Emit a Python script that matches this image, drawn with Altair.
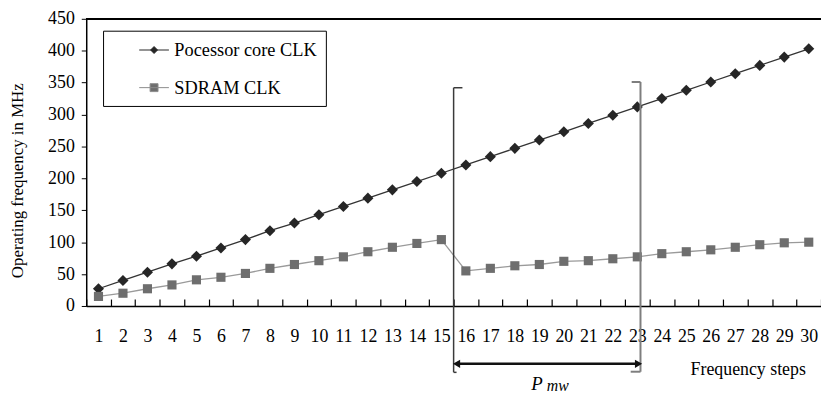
import altair as alt
import pandas as pd

# ---------------- data ----------------
steps = list(range(1, 31))
core_clk = [27, 40, 53, 66, 78, 91, 104, 118, 130, 143, 156, 169, 182, 195, 208,
            221, 234, 247, 260, 273, 286, 299, 312, 325, 338, 351, 364, 377, 390, 403]
sdram_clk = [15, 20, 27, 33, 41, 45, 51, 59, 65, 71, 77, 85, 92, 98, 104,
             55, 59, 63, 65, 70, 71, 74, 77, 82, 85, 88, 92, 96, 99, 100]
series_names = ["Pocessor core CLK", "SDRAM CLK"]

y_ticks = list(range(0, 451, 50))
x_labels = steps
x_tick_bounds = [s - 0.5 for s in steps] + [30.5]

# bracket (P mw window) segments
br_x = [15.5, 15.5, 15.5, 23.13, 22.77, 22.73]
br_x2 = [15.5, 15.86, 15.62, 23.13, 23.13, 23.13]
br_y = [342, 342, -104, 351, 351, -103]
br_y2 = [-104, 342, -104, -103, 351, -103]
br_side = ["left", "left", "left", "right", "right", "right"]

arrow_x = [15.62, 23.05]
arrow_y = -90.6
arrow_shape = ["triangle-left", "triangle-right"]

ann_text = ["P", "mw"]
ann_x = [18.9, 19.75]
ann_y = [-122, -125]
ann_size = [19, 16]

FONT = "Liberation Serif"
W, H = 742, 290

df = pd.DataFrame({
    "step": steps * 2,
    "value": core_clk + sdram_clk,
    "series": [series_names[0]] * 30 + [series_names[1]] * 30,
})
brk = pd.DataFrame({"x": br_x, "x2": br_x2, "y": br_y, "y2": br_y2, "side": br_side})
arr = pd.DataFrame({"x": arrow_x, "y": [arrow_y] * 2, "shape": arrow_shape})
ann = pd.DataFrame({"t": ann_text, "x": ann_x, "y": ann_y, "s": ann_size})

xscale = alt.Scale(domain=[0.5, 30.5], nice=False, zero=False)
yscale = alt.Scale(domain=[0, 450], nice=False)

label_axis = alt.Axis(
    orient="bottom", values=x_labels, ticks=False, grid=False, domain=True,
    domainColor="black", domainWidth=1.5, labelPadding=22, labelFontSize=18,
    labelFont=FONT, labelColor="black", format="d",
    title="Frequency steps", titleFont=FONT, titleFontSize=18,
    titleFontWeight="normal", titleColor="black", titleX=668, titleY=64,
    titleAlign="center", titleBaseline="middle",
)
tick_axis = alt.Axis(
    orient="top", offset=-H, values=x_tick_bounds, labels=False, ticks=True,
    tickSize=7, tickColor="black", tickWidth=1.2, domain=False, grid=False, title=None,
)
y_axis = alt.Axis(
    orient="left", values=y_ticks, grid=False, domainColor="black", domainWidth=1.5,
    tickColor="black", tickSize=5, labelPadding=7, labelFontSize=18,
    labelFont=FONT, labelColor="black",
    title="Operating frequency in MHz", titleFont=FONT, titleFontSize=17,
    titleFontWeight="normal", titleColor="black", titleAngle=-90,
    titleX=-69, titleY=163, titleAlign="center", titleBaseline="middle",
)

sym_core = "M-1.5,0H1.5M0,-0.35L0.35,0L0,0.35L-0.35,0Z"
sym_sdram = "M-1.5,0H1.5M-0.4,-0.4H0.4V0.4H-0.4Z"
legend = alt.Legend(
    orient="none", legendX=17, legendY=12, title=None, direction="vertical",
    strokeColor="black", padding=9, symbolOffset=32, labelOffset=10,
    rowPadding=18, labelFont=FONT, labelFontSize=18.5, labelColor="black",
    symbolSize=400, symbolStrokeWidth=1, symbolOpacity=1,
    symbolType={"expr": f"datum.value === 'SDRAM CLK' ? '{sym_sdram}' : '{sym_core}'"},
    symbolStrokeColor={"expr": "datum.value === 'SDRAM CLK' ? '#8c8c8c' : '#262626'"},
    symbolFillColor={"expr": "datum.value === 'SDRAM CLK' ? '#6e6e6e' : '#262626'"},
)

lines = alt.Chart(df).mark_line(strokeWidth=1.3).encode(
    x=alt.X("step:Q", scale=xscale, axis=label_axis),
    y=alt.Y("value:Q", scale=yscale, axis=y_axis),
    stroke=alt.Stroke("series:N", scale=alt.Scale(domain=series_names, range=["#333333", "#9a9a9a"]), legend=None),
)

points = alt.Chart(df).mark_point(filled=True, opacity=1, strokeWidth=0).encode(
    x=alt.X("step:Q", scale=xscale, axis=tick_axis),
    y=alt.Y("value:Q", scale=yscale, axis=None),
    color=alt.Color("series:N", scale=alt.Scale(domain=series_names, range=["#262626", "#6e6e6e"]), legend=legend),
    shape=alt.Shape("series:N", scale=alt.Scale(domain=series_names, range=["diamond", "square"]), legend=None),
    size=alt.Size("series:N", scale=alt.Scale(domain=series_names, range=[125, 85]), legend=None),
)

brackets = alt.Chart(brk).mark_rule().encode(
    x=alt.X("x:Q", scale=xscale, axis=None),
    x2="x2:Q",
    y=alt.Y("y:Q", scale=yscale, axis=None),
    y2="y2:Q",
    stroke=alt.Stroke("side:N", scale=alt.Scale(domain=["left", "right"], range=["#3a3a3a", "#7e7e7e"]), legend=None),
    strokeWidth=alt.StrokeWidth("side:N", scale=alt.Scale(domain=["left", "right"], range=[1.5, 2]), legend=None),
)

arrow_line = alt.Chart(arr).mark_line(color="#111111", strokeWidth=2.5).encode(
    x=alt.X("x:Q", scale=xscale, axis=None),
    y=alt.Y("y:Q", scale=yscale, axis=None),
)
arrow_heads = alt.Chart(arr).mark_point(filled=True, color="#111111", size=70, opacity=1).encode(
    x=alt.X("x:Q", scale=xscale, axis=None),
    y=alt.Y("y:Q", scale=yscale, axis=None),
    shape=alt.Shape("shape:N", scale=None, legend=None),
)

labels = alt.Chart(ann).mark_text(font=FONT, fontStyle="italic", color="black",
                                   align="center", baseline="middle").encode(
    x=alt.X("x:Q", scale=xscale, axis=None),
    y=alt.Y("y:Q", scale=yscale, axis=None),
    text="t:N",
    size=alt.Size("s:Q", scale=None, legend=None),
)

top_border = alt.Chart(df).mark_rule(color="black", strokeWidth=1.5).encode(
    x=alt.value(0), x2=alt.value(W), y=alt.value(0)
)

chart = alt.layer(
    lines, points, brackets, arrow_line, arrow_heads, labels, top_border
).resolve_axis(x="independent", y="independent").resolve_scale(
    stroke="independent", shape="independent", size="independent",
    strokeWidth="independent",
).properties(
    width=W, height=H,
    autosize=alt.AutoSizeParams(type="none"),
    padding={"left": 79, "top": 9, "right": 0, "bottom": 91},
    background="white",
).configure_view(stroke=None)

chart.save("out.html", embed_options={"renderer": "svg", "actions": False})
